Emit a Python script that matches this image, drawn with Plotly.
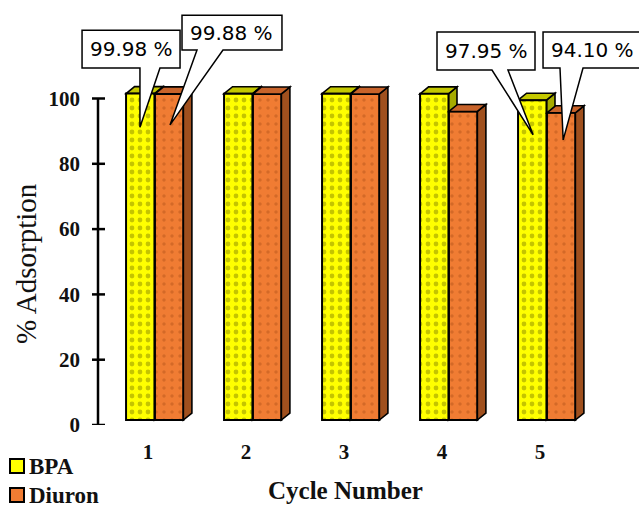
import plotly.graph_objects as go

# ---- data ----
cycles = [1, 2, 3, 4, 5]
bpa = [99.98, 99.95, 99.95, 99.90, 97.95]
diuron = [99.88, 99.85, 99.85, 94.50, 94.10]
series_names = ["BPA", "Diuron"]
y_ticks = [0, 20, 40, 60, 80, 100]

# ---- styling ----
W, H = 639, 511
front = ["#ffff00", "#f07c33"]
dots = ["#8a8a00", "#b8561c"]
top_col = ["#c4c800", "#c8632a"]
side_col = ["#a6ab00", "#a0501e"]
offsets = [-0.224, 0.071]        # bar left edge relative to category
bar_w = 0.29
dx, dy = 0.087, 2.14             # 3-D depth (x units, y units)
serif = "Liberation Serif"
px_per_x = 98.0                  # pixels per category step
px_per_y = 3.265                 # pixels per percent

fig = go.Figure()
values = [bpa, diuron]
for i, name in enumerate(series_names):
    fig.add_trace(go.Bar(
        x=cycles, y=values[i], name=name, width=bar_w, offset=offsets[i],
        marker=dict(color=front[i], line=dict(color="black", width=2),
                    pattern=dict(shape=".", fillmode="overlay", fgcolor=dots[i],
                                 size=8, solidity=0.28 if i == 0 else 0.15)),
        showlegend=False, xaxis="x", yaxis="y",
    ))

# 3-D top and side faces, computed from the values
shapes = []
for i in range(2):
    layer = "below" if i == 0 else "above"
    for k, v in zip(cycles, values[i]):
        x0 = k + offsets[i]
        x1 = x0 + bar_w
        shapes.append(dict(type="path", xref="x", yref="y", layer=layer,
                           path=f"M{x1},0 L{x1+dx},{dy} L{x1+dx},{v+dy} L{x1},{v} Z",
                           fillcolor=side_col[i], line=dict(color="black", width=1.6)))
        shapes.append(dict(type="path", xref="x", yref="y", layer=layer,
                           path=f"M{x0},{v} L{x0+dx},{v+dy} L{x1+dx},{v+dy} L{x1},{v} Z",
                           fillcolor=top_col[i], line=dict(color="black", width=1.6)))

# callout labels: (series, cycle, box [xL, xR, yB, yT], wedge base [xa, xb], tip fraction, tip drop)
callouts = [
    (0, 1, (0.327, 1.327, 107.8, 119.4), (0.918, 1.122), 0.49, 10.3),
    (1, 1, (1.347, 2.367, 113.3, 124.0), (1.50, 1.765), 0.53, 9.5),
    (0, 5, (3.949, 4.949, 107.2, 118.8), (4.51, 4.673), 0.53, 10.6),
    (1, 5, (5.031, 6.08, 107.8, 118.8), (5.204, 5.439), 0.57, 8.3),
]
x_lo = 1 - 148 / px_per_x
x_hi = x_lo + W / px_per_x
annotations = []
for s, k, (xl, xr, yb, yt), (ba, bb), frac, drop in callouts:
    v = values[s][cycles.index(k)]
    tx = k + offsets[s] + frac * bar_w
    ty = v - drop
    shapes.append(dict(type="path", xref="x", yref="y", layer="above",
                       path=(f"M{xl},{yt} L{xr},{yt} L{xr},{yb} L{bb},{yb} "
                             f"L{tx},{ty} L{ba},{yb} L{xl},{yb} Z"),
                       fillcolor="white", line=dict(color="black", width=1.5)))
    annotations.append(dict(x=(xl + min(xr, x_hi + 0.02)) / 2, y=(yb + yt) / 2,
                            xref="x", yref="y", xanchor="center", yanchor="middle",
                            text=f"{v:.2f} %", showarrow=False,
                            font=dict(family="DejaVu Sans", size=20, color="black")))

# y axis line with crossing ticks
ax_x = 98 / W
shapes.append(dict(type="line", xref="paper", yref="y2", x0=ax_x, x1=ax_x,
                   y0=y_ticks[0], y1=y_ticks[-1], line=dict(color="black", width=2.5)))
for t in y_ticks:
    shapes.append(dict(type="line", xref="paper", yref="y2", x0=92 / W, x1=105 / W,
                       y0=t, y1=t, line=dict(color="black", width=2.5)))

# legend
for i, name in enumerate(series_names):
    cy = 466 + 29 * i
    shapes.append(dict(type="rect", xref="paper", yref="paper",
                       x0=10 / W, x1=24 / W, y0=1 - (cy - 7) / H, y1=1 - (cy + 7) / H,
                       fillcolor=front[i], line=dict(color="black", width=2)))
    annotations.append(dict(x=27 / W, y=1 - cy / H, xref="paper", yref="paper",
                            xanchor="left", yanchor="middle", text=f"<b>{name}</b>",
                            showarrow=False,
                            font=dict(family=serif, size=23, color="#111")))

# axis titles
annotations.append(dict(x=345 / W, y=1 - 490 / H, xref="paper", yref="paper",
                        xanchor="center", yanchor="middle",
                        text="<b>Cycle Number</b>", showarrow=False,
                        font=dict(family=serif, size=25, color="#111")))
annotations.append(dict(x=26 / W, y=1 - 264 / H, xref="paper", yref="paper",
                        xanchor="center", yanchor="middle",
                        text="% Adsorption", showarrow=False, textangle=-90,
                        font=dict(family=serif, size=29, color="#111")))

fig.update_layout(
    width=W, height=H, margin=dict(l=0, r=0, t=0, b=0, autoexpand=False),
    paper_bgcolor="white", plot_bgcolor="white", barmode="overlay",
    showlegend=False, shapes=shapes, annotations=annotations,
    xaxis=dict(domain=[0, 1], range=[x_lo, x_hi], automargin=False,
               tickvals=cycles, ticktext=[f"<b>{c}</b>" for c in cycles],
               showgrid=False, zeroline=False, showline=False, ticks="",
               ticklabelstandoff=12, anchor="y",
               tickfont=dict(family=serif, size=21, color="#111")),
    yaxis=dict(domain=[86 / H, 1], range=[-5 / px_per_y, 420 / px_per_y],
               automargin=False, showgrid=False, zeroline=False, showline=False,
               showticklabels=False, ticks=""),
    yaxis2=dict(domain=[86 / H, 1], range=[0, 425 / px_per_y], overlaying="y",
                anchor="free", position=ax_x, side="left", tickvals=y_ticks,
                ticktext=[f"<b>{t}</b>" for t in y_ticks], automargin=False,
                showgrid=False, zeroline=False, showline=False, ticks="",
                ticklabelstandoff=18,
                tickfont=dict(family=serif, size=21, color="#111")),
)

fig.write_html("out.html")
